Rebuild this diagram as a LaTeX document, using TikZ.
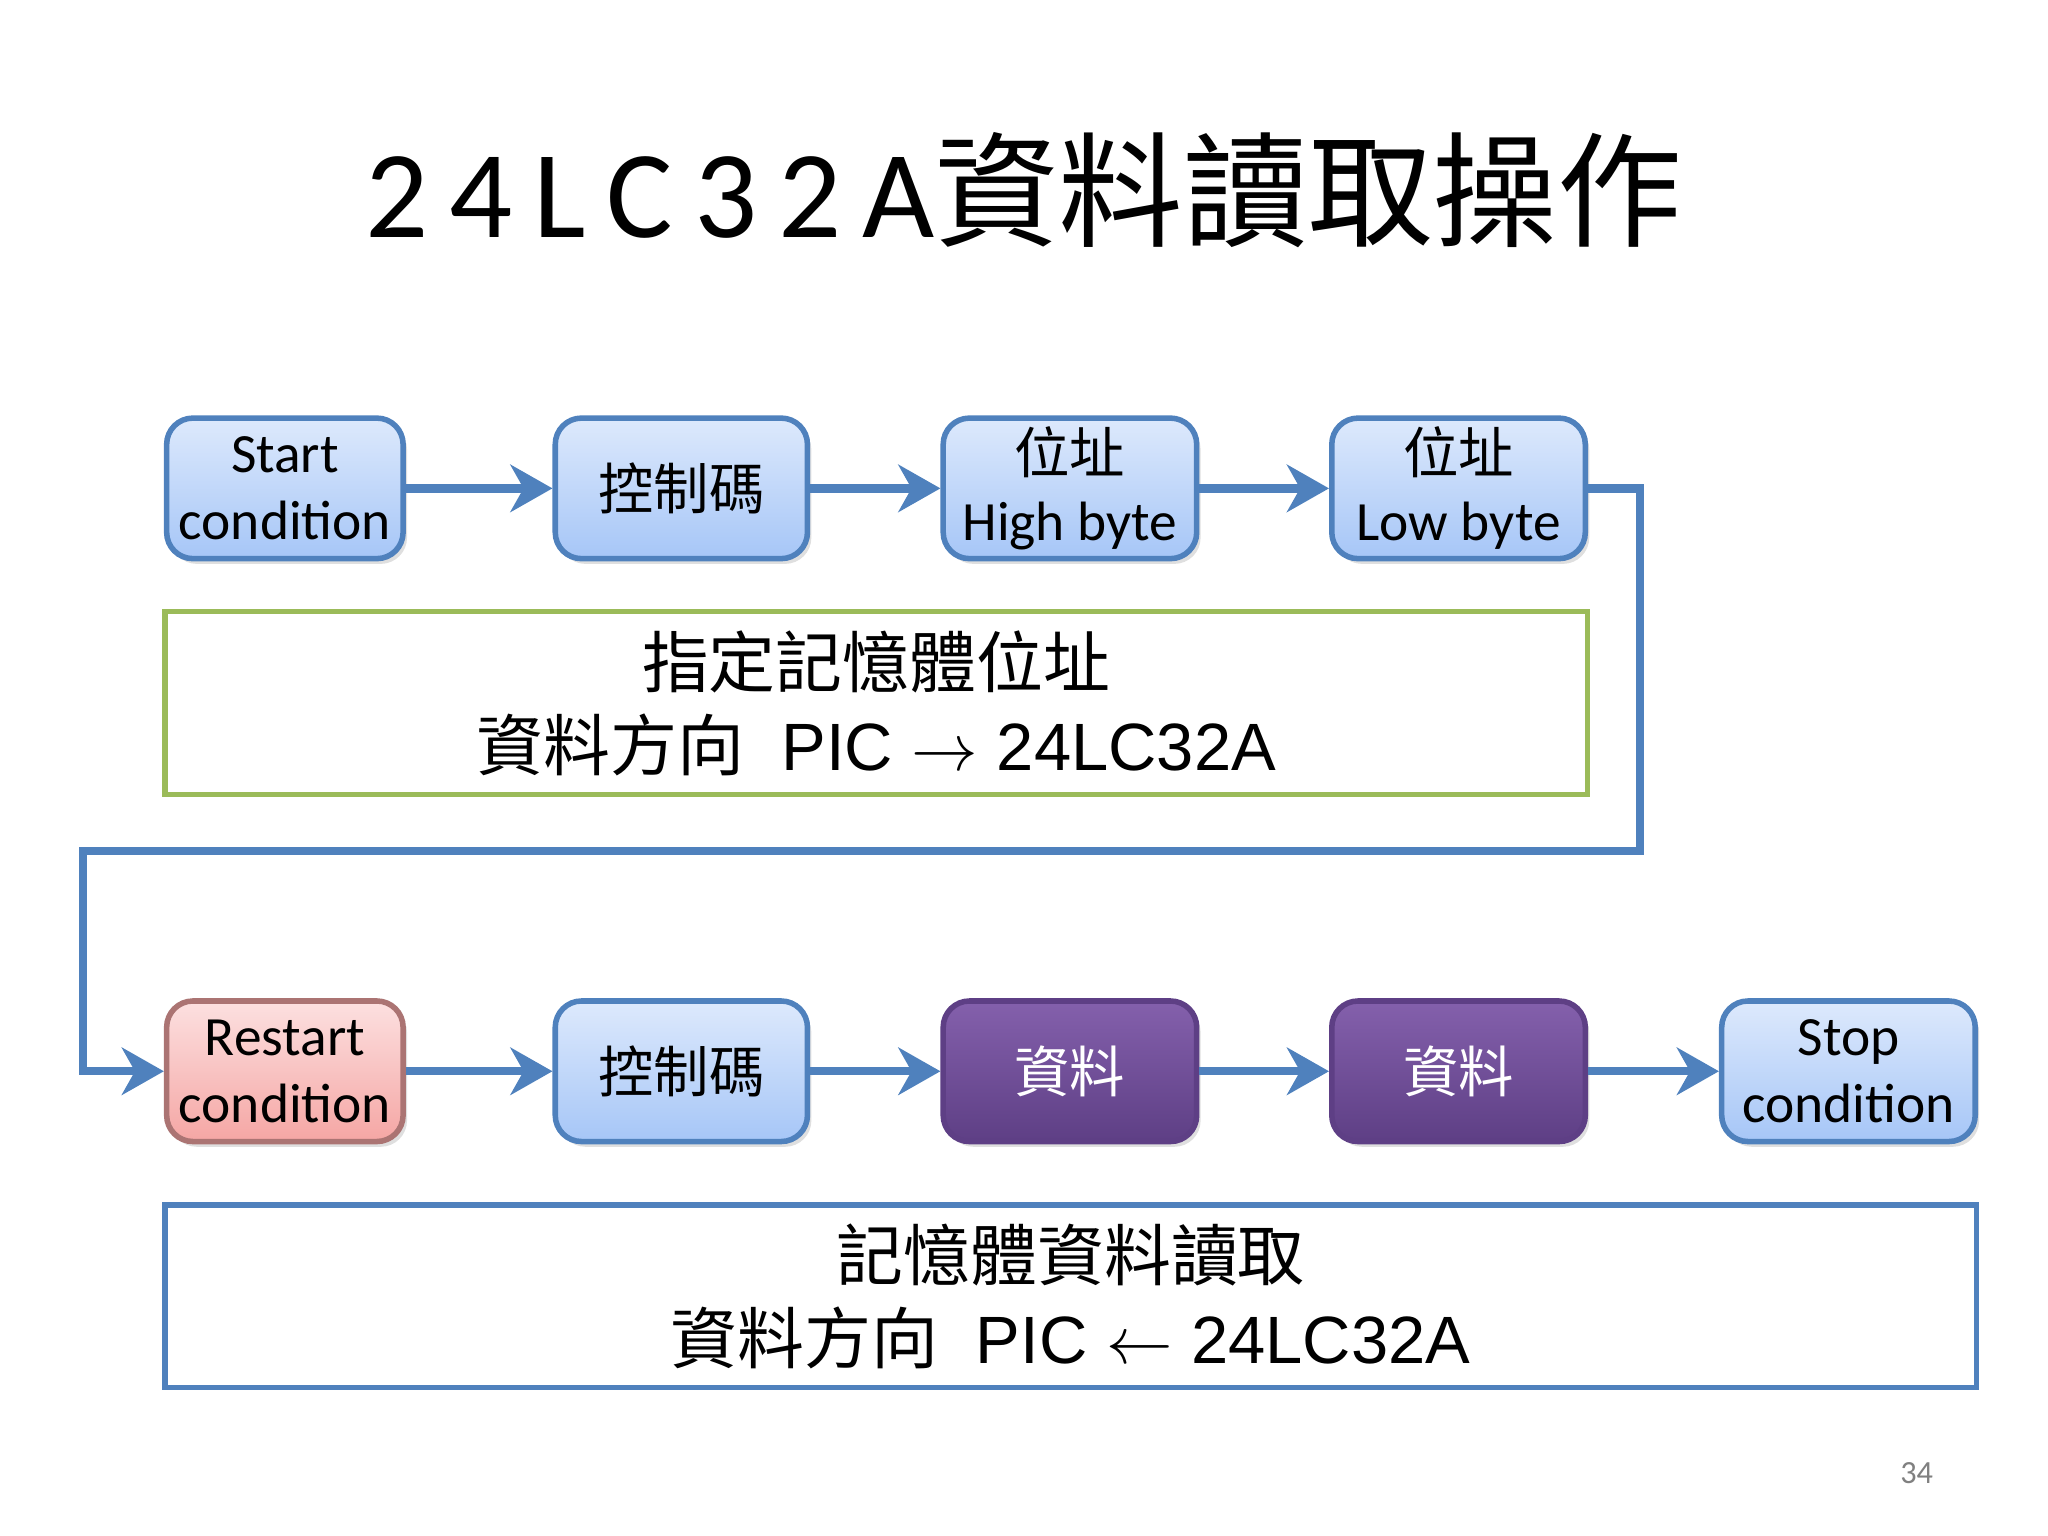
\documentclass[tikz,border=0pt]{standalone}
\usepackage{fontspec}
\setmainfont{Carlito}
\newfontfamily\cjk{Noto Sans CJK TC}
\newfontfamily\arial{Liberation Sans}
\usetikzlibrary{arrows.meta,shadows}
\definecolor{lineblue}{HTML}{4F81BD}
\definecolor{bluetop}{HTML}{DDE9FC}
\definecolor{bluebot}{HTML}{A6C6F7}
\definecolor{redtop}{HTML}{FCE0E0}
\definecolor{redbot}{HTML}{F5A6A4}
\definecolor{purtop}{HTML}{8460AC}
\definecolor{purbot}{HTML}{5E3F85}
\definecolor{greenline}{HTML}{9BBB59}
\begin{document}
\begin{tikzpicture}[x=0.01cm,y=-0.01cm,
  blk/.style={draw=lineblue,line width=1.2pt,rounded corners=0.2cm,
    top color=bluetop,bottom color=bluebot,minimum height=1.07cm,
    align=center,font=\fontsize{12}{14.5}\selectfont,inner sep=0pt,
    drop shadow={opacity=0.25,shadow xshift=0.03cm,shadow yshift=-0.04cm}},
  redblk/.style={blk,draw=redbot!70!black,top color=redtop,bottom color=redbot},
  purblk/.style={blk,draw=purbot,top color=purtop,bottom color=purbot,text=white},
  flow/.style={lineblue,line width=1.8pt,-{Stealth[length=0.32cm,width=0.36cm,inset=0.1cm]}},
  note/.style={draw,line width=1.2pt,align=center,inner sep=0pt,
    font=\arial\fontsize{14.5}{18}\selectfont}]
\useasboundingbox (0,0) rectangle (1560,1170);
\node (title) at (780,145) {\fontsize{27}{30}\selectfont 2\,4\,L\,C\,3\,2\,A{\cjk 資料讀取操作}};
% top row
\node[blk,minimum width=1.80cm] (s1) at (217,372) {Start\\condition};
\node[blk,minimum width=1.92cm] (s2) at (519,372) {\cjk 控制碼};
\node[blk,minimum width=1.93cm] (s3) at (815,372) {{\cjk 位址}\\High byte};
\node[blk,minimum width=1.93cm] (s4) at (1111,372) {{\cjk 位址}\\Low byte};
\draw[flow] (s1) -- (s2);
\draw[flow] (s2) -- (s3);
\draw[flow] (s3) -- (s4);
\node[note,draw=greenline,minimum width=10.83cm,minimum height=1.39cm] (n1) at (667.5,535.5)
  {{\cjk 指定記憶體位址}\\{\cjk 資料方向}\ \ PIC $\rightarrow$ 24LC32A};
% bottom row
\node[redblk,minimum width=1.80cm] (b1) at (217,816) {Restart\\condition};
\node[blk,minimum width=1.92cm] (b2) at (519,816) {\cjk 控制碼};
\node[purblk,minimum width=1.93cm] (b3) at (815,816) {\cjk 資料};
\node[purblk,minimum width=1.93cm] (b4) at (1111,816) {\cjk 資料};
\node[blk,minimum width=1.93cm] (b5) at (1408,816) {Stop\\condition};
\coordinate (c1) at (1249,372);
\coordinate (c2) at (1249,648);
\coordinate (c3) at (63,648);
\coordinate (c4) at (63,816);
\draw[flow] (s4.east) -- (c1) -- (c2) -- (c3) -- (c4) -- (b1.west);
\draw[flow] (b1) -- (b2);
\draw[flow] (b2) -- (b3);
\draw[flow] (b3) -- (b4);
\draw[flow] (b4) -- (b5);
\node[note,draw=lineblue,minimum width=13.79cm,minimum height=1.39cm] (n2) at (815.5,987.5)
  {{\cjk 記憶體資料讀取}\\{\cjk 資料方向}\ \ PIC $\leftarrow$ 24LC32A};
\node[text=gray,font=\fontsize{7}{8}\selectfont] (pg) at (1460,1122) {34};
\end{tikzpicture}
\end{document}
